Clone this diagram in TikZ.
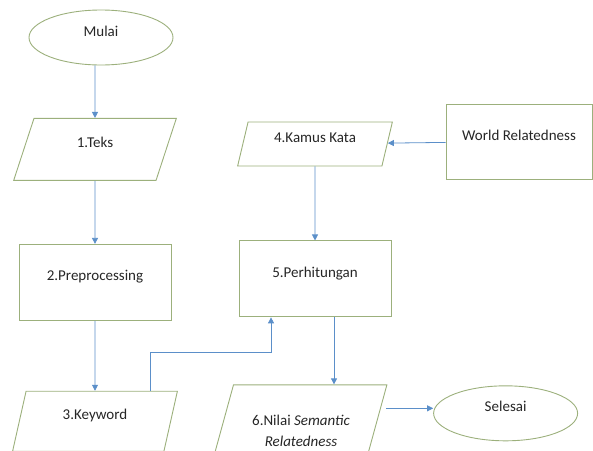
\documentclass[tikz,border=0pt]{standalone}
\usepackage{fontspec}
\setmainfont{Carlito}
\usepackage{xcolor}
\usepackage{tikz}
\usetikzlibrary{arrows.meta,positioning,shapes.geometric}
\definecolor{edgegreen}{HTML}{9CB07C}
\definecolor{flowblue}{HTML}{5B8FC9}
\definecolor{inkgray}{HTML}{262626}

\begin{document}
\begin{tikzpicture}[
  node distance=50pt and 50pt,
  base/.style={draw=edgegreen, line width=0.9pt, fill=white, align=center,
               text=inkgray, font=\fontsize{15}{19}\selectfont, inner sep=2pt,
               text height=11pt, text depth=14pt},
  term/.style={base, ellipse, minimum width=144pt, minimum height=55pt},
  io/.style={base, trapezium, trapezium left angle=77, trapezium right angle=103,
             trapezium stretches=true},
  box/.style={base, rectangle, minimum width=152pt, minimum height=76pt},
  arr/.style={-{Triangle[length=6pt,width=6pt]}, draw=flowblue, line width=0.8pt}
]
\useasboundingbox (0,0) rectangle (593pt,-450pt);

% kolom kiri
\node[term] (mulai) at (101pt,-37.5pt) {Mulai};
\node[io, minimum width=163pt, minimum height=62pt, below=52.5pt of mulai, xshift=-6pt] (teks) {1.Teks};
\node[box, below=63pt of teks] (pre) {2.Preprocessing};
\node[io, minimum width=165pt, minimum height=60pt, below=70pt of pre] (keyword) {3.Keyword};

% kolom kanan
\node[io, minimum width=156pt, minimum height=44pt] (kamus) at (315pt,-144pt) {4.Kamus Kata};
\node[box, minimum width=146pt, minimum height=75pt, right=58pt of kamus, yshift=2.5pt] (world) {World Relatedness};
\node[box, below=74pt of kamus] (perh) {5.Perhitungan};
\node[io, minimum width=172pt, minimum height=67pt, below=67pt of perh, xshift=-14pt,
      text height=56pt, text depth=0pt] (nilai) {6.Nilai \textit{Semantic}\\[2pt]\textit{Relatedness}};
\node[term, right=55pt of nilai, yshift=5pt] (selesai) {Selesai};

\draw[arr] (mulai.south -| teks.north) -- (teks);
\draw[arr] (teks) -- (pre);
\draw[arr] (pre) -- (keyword);
\draw[arr] ([xshift=55pt]keyword.north) |- ([xshift=-44pt,yshift=-35pt]perh.south) -- ([xshift=-44pt]perh.south);
\draw[arr] (world) -- (kamus);
\draw[arr] (kamus) -- (perh);
\draw[arr] ([xshift=19pt]perh.south) -- ([xshift=19pt]perh.south |- nilai.north);
\draw[arr] ([xshift=8pt,yshift=5pt]nilai.east |- selesai.west) -- ([yshift=5pt]selesai.west);
\end{tikzpicture}
\end{document}
